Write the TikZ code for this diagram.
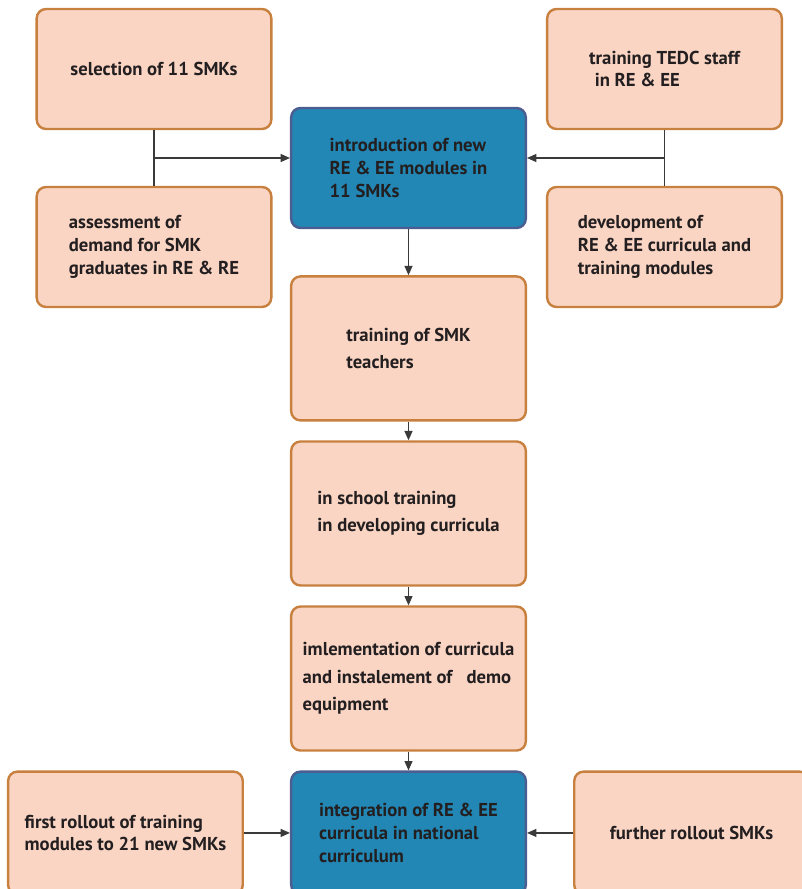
\documentclass[tikz,border=0pt]{standalone}
\usepackage{fontspec}
\setmainfont{PT Sans}
\usepackage{tikz}
\usetikzlibrary{arrows.meta, positioning, calc}

\definecolor{peach}{HTML}{FAD5C4}
\definecolor{peachline}{HTML}{C8803F}
\definecolor{bluefill}{HTML}{2287B5}
\definecolor{blueline}{HTML}{4C5D91}
\definecolor{inktext}{HTML}{231F20}
\definecolor{wire}{HTML}{3A3A3A}

\begin{document}
\begin{tikzpicture}[
  x=0.75pt, y=-0.75pt,
  node distance=14pt and 34.5pt,
  every node/.style={font=\bfseries\fontsize{14}{17}\selectfont, text=inktext},
  box/.style={rectangle, rounded corners=7pt, draw=peachline, line width=1.8pt, fill=peach, align=left, minimum width=176pt, minimum height=90pt, inner sep=2pt},
  tallbox/.style={box, minimum height=108pt, font=\bfseries\fontsize{14}{20.5}\selectfont},
  keybox/.style={box, fill=bluefill, draw=blueline},
  arr/.style={-{Triangle[length=7pt, width=6pt]}, draw=wire, line width=0.9pt},
  ln/.style={draw=wire, line width=0.9pt}
]
  \useasboundingbox (0,0) rectangle (802,889);

  % centre column
  \node[keybox] (intro) at (408.5,168) {introduction of new\\RE \& EE modules in\\11 SMKs};
  \node[tallbox, below=34.5pt of intro] (teach) {training of SMK\\teachers};
  \node[tallbox, below=of teach] (school) {in school training\\in developing curricula};
  \node[tallbox, below=of school] (impl) {imlementation of curricula\\and instalement of~~ demo\\equipment};
  \node[keybox, minimum height=92pt, below=of impl] (integ) {integration of RE \& EE\\curricula in national\\curriculum};

  % side boxes
  \node[box] (select) at (154,69) {selection of 11 SMKs};
  \node[box] (assess) at (154,247) {assessment of\\demand for SMK\\graduates in RE \& RE};
  \node[box] (tedc) at (664.5,69) {training TEDC staff\\\hspace{0.3em}in RE \& EE};
  \node[box] (devel) at (664.5,247) {development of\\RE \& EE curricula and\\training modules};
  \node[box, minimum height=92pt, left=of integ] (first) {first rollout of training\\modules to 21 new SMKs};
  \node[box, minimum height=92pt, right=of integ] (further) {further rollout SMKs};

  % connectors
  \coordinate (ljoin) at ($(select.south)!0.5!(assess.north)$);
  \coordinate (rjoin) at ($(tedc.south)!0.5!(devel.north)$);
  \draw[ln] (select) -- (assess);
  \draw[ln] (tedc) -- (devel);
  \draw[arr] (ljoin) -- (ljoin -| intro.west);
  \draw[arr] (rjoin) -- (rjoin -| intro.east);

  \draw[arr] (intro) -- (teach);
  \draw[arr] (teach) -- (school);
  \draw[arr] (school) -- (impl);
  \draw[arr] (impl) -- (integ);
  \draw[arr] (first) -- (integ);
  \draw[arr] (further) -- (integ);
\end{tikzpicture}
\end{document}
